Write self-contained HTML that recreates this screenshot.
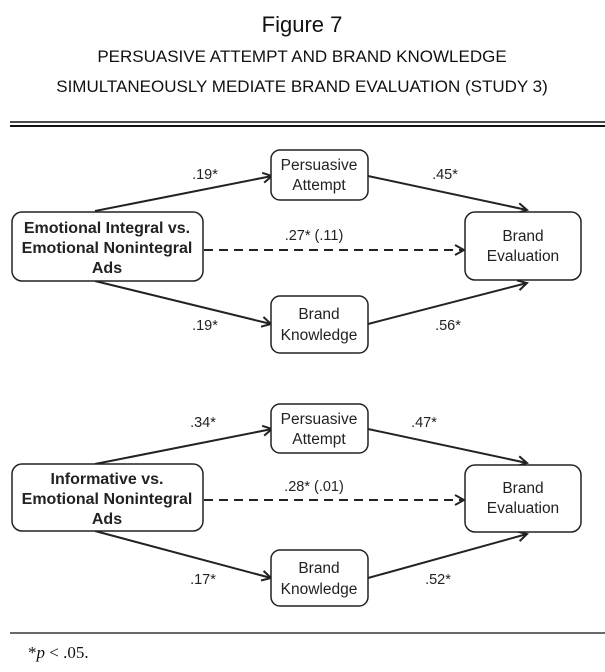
<!DOCTYPE html>
<html><head><meta charset="utf-8"><style>
html,body{margin:0;padding:0;background:#fff;width:605px;height:672px;overflow:hidden}
</style></head><body>
<svg width="605" height="672" xmlns="http://www.w3.org/2000/svg" font-family="Liberation Sans, sans-serif">
<defs>
<marker id="a" markerWidth="12" markerHeight="12" refX="10" refY="6" orient="auto" markerUnits="userSpaceOnUse">
<path d="M1,1 L10,6 L1,11" fill="none" stroke="#222" stroke-width="2"/>
</marker>
</defs>
<text x="302" y="32" font-size="22" text-anchor="middle" fill="#111">Figure 7</text>
<text x="302" y="62" font-size="17" text-anchor="middle" fill="#111">PERSUASIVE ATTEMPT AND BRAND KNOWLEDGE</text>
<text x="302" y="92" font-size="17" text-anchor="middle" fill="#111">SIMULTANEOUSLY MEDIATE BRAND EVALUATION (STUDY 3)</text>
<line x1="10" y1="122" x2="605" y2="122" stroke="#111" stroke-width="1.5"/>
<line x1="10" y1="126" x2="605" y2="126" stroke="#111" stroke-width="2"/>

<g stroke="#222" fill="none" stroke-width="2">
<line x1="95" y1="211" x2="272" y2="176" marker-end="url(#a)"/>
<line x1="368" y1="176" x2="527" y2="210" marker-end="url(#a)"/>
<line x1="204" y1="250" x2="464" y2="250" stroke-dasharray="9,6" marker-end="url(#a)"/>
<line x1="95" y1="281" x2="271" y2="324" marker-end="url(#a)"/>
<line x1="368" y1="324" x2="527" y2="283" marker-end="url(#a)"/>
<rect x="271" y="150" width="97" height="50" rx="9" stroke-width="1.5" fill="#fff"/>
<rect x="12" y="212" width="191" height="69" rx="10" stroke-width="1.5" fill="#fff"/>
<rect x="465" y="212" width="116" height="68" rx="10" stroke-width="1.5" fill="#fff"/>
<rect x="271" y="296" width="97" height="57" rx="9" stroke-width="1.5" fill="#fff"/>
</g>
<g font-size="15.5" fill="#222" text-anchor="middle">
<text x="319" y="170">Persuasive</text><text x="319" y="190">Attempt</text>
<text x="107" y="233" font-weight="bold" font-size="16">Emotional Integral vs.</text>
<text x="107" y="253" font-weight="bold" font-size="16">Emotional Nonintegral</text>
<text x="107" y="273" font-weight="bold" font-size="16">Ads</text>
<text x="523" y="241">Brand</text><text x="523" y="261">Evaluation</text>
<text x="319" y="319">Brand</text><text x="319" y="340">Knowledge</text>
<text x="205" y="179" font-size="14.5">.19*</text>
<text x="445" y="179" font-size="14.5">.45*</text>
<text x="314" y="240" font-size="14.5">.27* (.11)</text>
<text x="205" y="330" font-size="14.5">.19*</text>
<text x="448" y="330" font-size="14.5">.56*</text>
</g>

<g stroke="#222" fill="none" stroke-width="2">
<line x1="95" y1="464" x2="272" y2="429" marker-end="url(#a)"/>
<line x1="368" y1="429" x2="527" y2="463" marker-end="url(#a)"/>
<line x1="204" y1="500" x2="464" y2="500" stroke-dasharray="9,6" marker-end="url(#a)"/>
<line x1="95" y1="531" x2="271" y2="578" marker-end="url(#a)"/>
<line x1="368" y1="578" x2="527" y2="534" marker-end="url(#a)"/>
<rect x="271" y="404" width="97" height="49" rx="9" stroke-width="1.5" fill="#fff"/>
<rect x="12" y="464" width="191" height="67" rx="10" stroke-width="1.5" fill="#fff"/>
<rect x="465" y="465" width="116" height="67" rx="10" stroke-width="1.5" fill="#fff"/>
<rect x="271" y="550" width="97" height="56" rx="9" stroke-width="1.5" fill="#fff"/>
</g>
<g font-size="15.5" fill="#222" text-anchor="middle">
<text x="319" y="424">Persuasive</text><text x="319" y="444">Attempt</text>
<text x="107" y="484" font-weight="bold" font-size="16">Informative vs.</text>
<text x="107" y="504" font-weight="bold" font-size="16">Emotional Nonintegral</text>
<text x="107" y="524" font-weight="bold" font-size="16">Ads</text>
<text x="523" y="493">Brand</text><text x="523" y="513">Evaluation</text>
<text x="319" y="573">Brand</text><text x="319" y="594">Knowledge</text>
<text x="203" y="427" font-size="14.5">.34*</text>
<text x="424" y="427" font-size="14.5">.47*</text>
<text x="314" y="491" font-size="14.5">.28* (.01)</text>
<text x="203" y="584" font-size="14.5">.17*</text>
<text x="438" y="584" font-size="14.5">.52*</text>
</g>

<line x1="10" y1="633" x2="605" y2="633" stroke="#111" stroke-width="1.2"/>
<text x="28" y="658" font-family="Liberation Serif, serif" font-size="17" fill="#111">*<tspan font-style="italic">p</tspan> &lt; .05.</text>
</svg>
</body></html>
